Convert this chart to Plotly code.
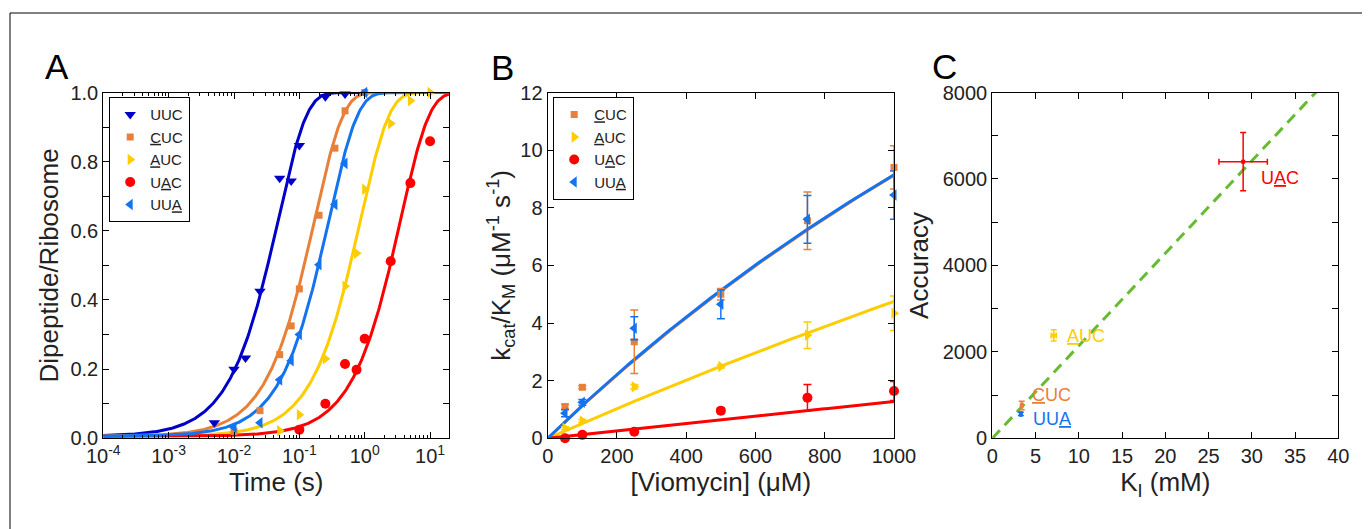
import numpy as np
import plotly.graph_objects as go

W, H = 1370, 529
PAGE_OFFSET = 8  # default body margin of the html page

# ---------------- Panel A data: time courses ----------------
codons = ["UUC", "CUC", "AUC", "UAC", "UUA"]
codon_labels = ["UUC", "<u>C</u>UC", "<u>A</u>UC", "U<u>A</u>C", "UU<u>A</u>"]
colors = {"UUC": "#0000C8", "CUC": "#E8803A", "AUC": "#FFCC00", "UAC": "#FF0000", "UUA": "#1474F0"}
symbols = {"UUC": "triangle-down", "CUC": "square", "AUC": "triangle-right",
           "UAC": "circle", "UUA": "triangle-left"}

t_UUC = [0.005, 0.01, 0.015, 0.025, 0.05, 0.075, 0.1, 0.25, 0.5]
y_UUC = [0.045, 0.20, 0.232, 0.425, 0.752, 0.744, 0.847, 0.988, 0.996]
t_CUC = [0.01, 0.025, 0.05, 0.075, 0.1, 0.2, 0.35, 0.5, 1.0]
y_CUC = [0.02, 0.08, 0.242, 0.325, 0.432, 0.645, 0.839, 0.947, 1.0]
t_AUC = [0.05, 0.1, 0.25, 0.5, 0.75, 1.0, 2.5, 5.0, 10.0]
y_AUC = [0.022, 0.068, 0.23, 0.44, 0.535, 0.72, 0.91, 0.976, 1.0]
t_UAC = [0.1, 0.25, 0.5, 0.75, 1.0, 2.5, 5.0, 10.0, 20.0]
y_UAC = [0.025, 0.10, 0.215, 0.198, 0.288, 0.512, 0.738, 0.859, 1.0]
t_UUA = [0.01, 0.025, 0.05, 0.075, 0.1, 0.2, 0.35, 0.5, 1.0]
y_UUA = [0.032, 0.045, 0.169, 0.224, 0.30, 0.502, 0.676, 0.795, 1.0]

# fitted single-exponential rate constants (s^-1) and baseline
k_fit = {"UUC": 21.0, "CUC": 5.8, "AUC": 1.15, "UAC": 0.28, "UUA": 3.5}
y0_fit = 0.006

A_data = {"UUC": (t_UUC, y_UUC), "CUC": (t_CUC, y_CUC), "AUC": (t_AUC, y_AUC),
          "UAC": (t_UAC, y_UAC), "UUA": (t_UUA, y_UUA)}

# ---------------- Panel B data: kcat/KM vs viomycin ----------------
B_codons = ["CUC", "AUC", "UAC", "UUA"]
vio = [50, 100, 250, 500, 750, 1000]
kk_CUC = [1.10, 1.77, 3.35, 5.0, 7.55, 9.4]
err_CUC = [0.08, 0.05, 1.1, 0.2, 1.0, 0.75]
kk_AUC = [0.35, 0.60, 1.79, 2.49, 3.58, 4.34]
err_AUC = [0.05, 0.05, 0.08, 0.05, 0.46, 0.6]
kk_UAC = [0.0, 0.12, 0.23, 0.96, 1.41, 1.64]
err_UAC = [0.02, 0.02, 0.03, 0.1, 0.46, 0.33]
kk_UUA = [0.87, 1.25, 3.82, 4.65, 7.6, 8.44]
err_UUA = [0.12, 0.1, 0.4, 0.5, 0.83, 0.84]
B_data = {"CUC": (kk_CUC, err_CUC), "AUC": (kk_AUC, err_AUC),
          "UAC": (kk_UAC, err_UAC), "UUA": (kk_UUA, err_UUA)}
# hyperbolic fit parameters: y = a*x/(1+x/K)
B_fit = {"CUC": (0.01160, 3700.0), "AUC": (0.00528, 9000.0),
         "UAC": (0.00130, 50000.0), "UUA": (0.01172, 3550.0)}

# ---------------- Panel C data: accuracy vs KI ----------------
C_codons = ["UAC", "AUC", "CUC", "UUA"]
KI = [29.0, 7.1, 3.4, 3.3]
KI_err = [2.8, 0.3, 0.1, 0.1]
accuracy = [6400, 2380, 760, 565]
acc_err = [675, 130, 100, 40]
C_label_x = [30.8, 8.4, 4.4, 4.5]
C_label_y = [6020, 2370, 1000, 445]
slope_C = 214.0  # accuracy per mM (dashed guide)

# ---------------- layout geometry ----------------
def px_x(p):
    return (p - PAGE_OFFSET) / W

def px_y(p):
    return 1 - (p - PAGE_OFFSET) / H

dom_y = [px_y(438.3), px_y(92.5)]
dom_A = [px_x(103.3), px_x(449.3)]
dom_B = [px_x(547.7), px_x(894.0)]
dom_C = [px_x(992.3), px_x(1338.3)]

fig = go.Figure()

# Panel A fit lines + markers
t_grid = np.logspace(-4, np.log10(20), 400)
for c in codons:
    yfit = y0_fit + (1 - y0_fit) * (1 - np.exp(-k_fit[c] * t_grid))
    fig.add_trace(go.Scatter(x=t_grid, y=yfit, mode="lines", xaxis="x", yaxis="y",
                             line=dict(color=colors[c], width=3), showlegend=False,
                             hoverinfo="skip"))
for c, lab in zip(codons, codon_labels):
    tx, ty = A_data[c]
    fig.add_trace(go.Scatter(x=tx, y=ty, mode="markers", xaxis="x", yaxis="y",
                             name=lab, legend="legend", cliponaxis=False,
                             marker=dict(symbol=symbols[c], color=colors[c],
                                         size=10 if c != "CUC" else 7, line=dict(width=0))))

# Panel B lines + markers
x_grid = np.linspace(0, 1000, 200)
for c in B_codons:
    a, K = B_fit[c]
    fig.add_trace(go.Scatter(x=x_grid, y=a * x_grid / (1 + x_grid / K), mode="lines",
                             xaxis="x2", yaxis="y2", line=dict(color=colors[c], width=3),
                             showlegend=False, hoverinfo="skip"))
for c in B_codons:
    lab = codon_labels[codons.index(c)]
    yy, ee = B_data[c]
    fig.add_trace(go.Scatter(x=vio, y=yy, mode="markers", xaxis="x2", yaxis="y2",
                             name=lab, legend="legend2", cliponaxis=False,
                             error_y=dict(type="data", array=ee, color=colors[c],
                                          thickness=1.5, width=4),
                             marker=dict(symbol=symbols[c], color=colors[c],
                                         size=10 if c != "CUC" else 7, line=dict(width=0))))

# Panel C guide line + points
kx = np.array([0.0, 40.0])
fig.add_trace(go.Scatter(x=kx, y=slope_C * kx, mode="lines", xaxis="x3", yaxis="y3",
                         line=dict(color="#66BB33", width=3, dash="11px,7px"),
                         showlegend=False, hoverinfo="skip"))
for i, c in enumerate(C_codons):
    fig.add_trace(go.Scatter(x=[KI[i]], y=[accuracy[i]], mode="markers",
                             xaxis="x3", yaxis="y3", showlegend=False,
                             error_x=dict(type="data", array=[KI_err[i]], color=colors[c],
                                          thickness=1.5, width=3),
                             error_y=dict(type="data", array=[acc_err[i]], color=colors[c],
                                          thickness=1.5, width=3),
                             marker=dict(symbol="square", color=colors[c], size=4)))

tickfont = dict(family="Liberation Sans, Arial, sans-serif", size=20, color="#222222")
titlefont = dict(family="Liberation Sans, Arial, sans-serif", size=26, color="#222222")
common = dict(showline=True, linecolor="black", linewidth=1.2, mirror="ticks",
              ticks="inside", ticklen=6, tickwidth=1, tickcolor="black",
              showgrid=False, zeroline=False, tickfont=tickfont, automargin=False)

decades = [1e-4, 1e-3, 1e-2, 1e-1, 1e0, 1e1]
dec_text = ["10<sup>-4</sup>", "10<sup>-3</sup>", "10<sup>-2</sup>", "10<sup>-1</sup>",
            "10<sup>0</sup>", "10<sup>1</sup>"]
minor_log = [m * d for d in decades for m in range(2, 10) if m * d <= 20]

fig.update_layout(
    width=W, height=H, autosize=False,
    margin=dict(l=0, r=0, t=0, b=0, autoexpand=False),
    paper_bgcolor="white", plot_bgcolor="white",
    font=dict(family="Liberation Sans, Arial, sans-serif", color="#222222"),
    xaxis=dict(common, domain=dom_A, anchor="y", type="log",
               range=[-4, np.log10(19.7)], tickmode="array", tickvals=decades,
               ticktext=dec_text,
               minor=dict(tickmode="array", tickvals=minor_log, ticks="inside",
                          ticklen=3, tickcolor="black", showgrid=False),
               title=dict(text="Time (s)", font=titlefont, standoff=6)),
    yaxis=dict(common, domain=dom_y, anchor="x", range=[0, 1], dtick=0.2,
               tickformat=".1f",
               minor=dict(dtick=0.1, ticks="inside", ticklen=6, tickcolor="black",
                          showgrid=False),
               title=dict(text="Dipeptide/Ribosome", font=titlefont, standoff=4)),
    xaxis2=dict(common, domain=dom_B, anchor="y2", range=[0, 1000], dtick=200,
                title=dict(text="[Viomycin] (μM)", font=titlefont, standoff=6)),
    yaxis2=dict(common, domain=dom_y, anchor="x2", range=[0, 12], dtick=2,
                title=dict(text="k<sub>cat</sub>/K<sub>M</sub> (μM<sup>-1</sup> s<sup>-1</sup>)",
                           font=titlefont, standoff=2)),
    xaxis3=dict(common, domain=dom_C, anchor="y3", range=[0, 40], dtick=5,
                title=dict(text="K<sub>I</sub> (mM)", font=titlefont, standoff=6)),
    yaxis3=dict(common, domain=dom_y, anchor="x3", range=[0, 8000], dtick=2000,
                minor=dict(dtick=1000, ticks="inside", ticklen=6, tickcolor="black",
                           showgrid=False),
                title=dict(text="Accuracy", font=titlefont, standoff=6)),
    legend=dict(x=px_x(109), y=px_y(97), xanchor="left", yanchor="top",
                bgcolor="white", bordercolor="black", borderwidth=1.2,
                font=dict(size=15, color="#222222"), itemwidth=30,
                tracegroupgap=0),
    legend2=dict(x=px_x(553), y=px_y(97), xanchor="left", yanchor="top",
                 bgcolor="white", bordercolor="black", borderwidth=1.2,
                 font=dict(size=15, color="#222222"), itemwidth=30,
                 tracegroupgap=0),
)

# panel letters
for letter, x, y in [("A", 57, 67), ("B", 502, 68), ("C", 944, 66)]:
    fig.add_annotation(text=letter, x=px_x(x), y=px_y(y), xref="paper", yref="paper",
                       showarrow=False, xanchor="center", yanchor="middle",
                       font=dict(size=35, color="black"))

# codon labels in panel C
for i, c in enumerate(C_codons):
    lab = codon_labels[codons.index(c)]
    fig.add_annotation(text=lab, x=C_label_x[i], y=C_label_y[i], xref="x3", yref="y3",
                       showarrow=False, xanchor="left", yanchor="middle",
                       font=dict(size=18, color=colors[c]))

# outer frame
fig.add_shape(type="rect", xref="paper", yref="paper", x0=px_x(10), x1=1.02,
              y0=-0.05, y1=px_y(13), line=dict(color="black", width=1))

fig.write_html("out.html")
